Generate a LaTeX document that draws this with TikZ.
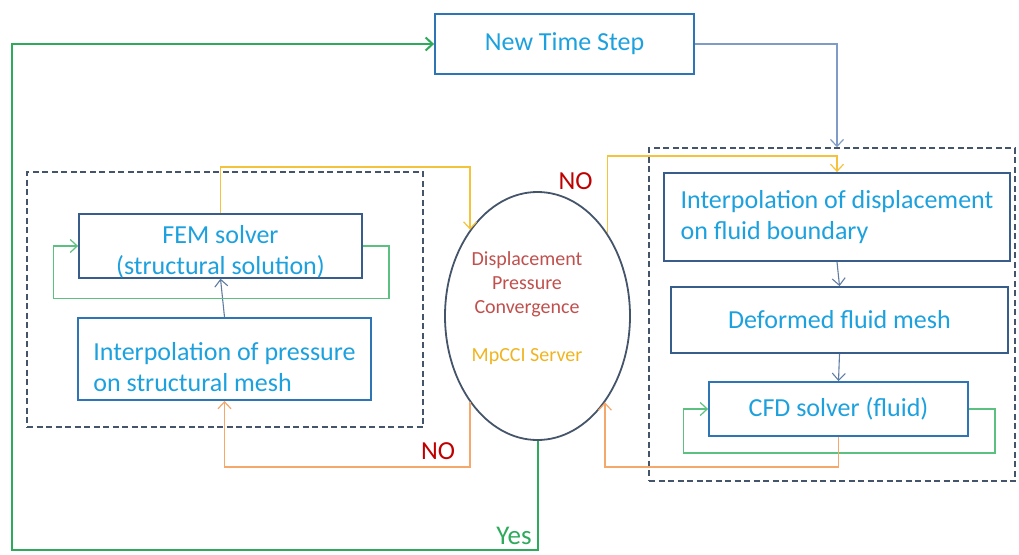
\documentclass[tikz,border=0pt]{standalone}
\usepackage{fontspec}
\setmainfont{Carlito}
\usepackage{tikz}
\usetikzlibrary{arrows.meta,positioning,calc,shapes.geometric}
\definecolor{txtcyan}{HTML}{1DA1DE}
\definecolor{boxblue}{HTML}{2E75B6}
\definecolor{boxdark}{HTML}{385D8A}
\definecolor{zonegray}{HTML}{44546A}
\definecolor{yesgreen}{HTML}{2DAA5C}
\definecolor{loopgreen}{HTML}{5CC080}
\definecolor{noorange}{HTML}{F4A86C}
\definecolor{noyellow}{HTML}{F5C33B}
\definecolor{stepblue}{HTML}{7F9BC6}
\definecolor{nored}{HTML}{C00000}
\definecolor{convred}{HTML}{C0504D}
\definecolor{mpyellow}{HTML}{F0B420}
\tikzset{
  bluebox/.style={draw=boxblue, line width=1.8pt, text=txtcyan, font=\fontsize{26}{31}\selectfont, inner sep=0pt},
  darkbox/.style={draw=boxdark, line width=1.8pt, text=txtcyan, font=\fontsize{26}{31}\selectfont, inner sep=0pt},
  srvnode/.style={draw=zonegray, ellipse, line width=1.8pt, inner sep=0pt},
  zonebox/.style={draw=zonegray, dashed, dash pattern=on 6pt off 3.5pt, line width=1.5pt, inner sep=0pt},
  tip/.style={-{Straight Barb[length=7pt,width=13pt]}},
  yline/.style={tip, noyellow, line width=1.2pt},
  oline/.style={tip, noorange, line width=1.2pt},
  gline/.style={tip, yesgreen, line width=2pt},
  loopline/.style={tip, loopgreen, line width=1.2pt},
  bline/.style={tip, stepblue, line width=1.2pt},
  dline/.style={tip, boxdark!80, line width=1.1pt},
  notext/.style={text=nored, font=\fontsize{26}{30}\selectfont},
}
\begin{document}
\begin{tikzpicture}[x=1pt, y=-1pt]
  \useasboundingbox (0,0) rectangle (1019,554);

  % dashed zones
  \node[zonebox, minimum width=396pt, minimum height=255pt] (solidzone) at (225,299.5) {};
  \node[zonebox, minimum width=366pt, minimum height=333pt] (fluidzone) at (832,314.5) {};

  % boxes
  \node[bluebox, minimum width=259pt, minimum height=60pt] (ts) at (564.5,44) {New Time Step};
  \node[darkbox, minimum width=346pt, minimum height=88pt, align=left] (idisp) at (837,217) {Interpolation of displacement\\on fluid boundary};
  \node[darkbox, minimum width=337pt, minimum height=66pt] (dmesh) at (839.5,320) {Deformed fluid mesh};
  \node[bluebox, minimum width=259pt, minimum height=54pt] (cfd) at (838.5,409) {CFD solver (fluid)};
  \node[darkbox, minimum width=283pt, minimum height=62pt, align=center] (fem) at (220.5,246) {\rule{0pt}{29pt}FEM solver\\(structural solution)};
  \node[bluebox, minimum width=293pt, minimum height=82pt, align=left] (ipres) at (224.5,359) {\rule{0pt}{35pt}Interpolation of pressure\\on structural mesh};

  % server
  \node[srvnode, minimum width=185pt, minimum height=248pt] (srv) at (537.5,316) {};
  \node[align=center, font=\fontsize{20}{24}\selectfont] (srvinfo) at (527,308) {\textcolor{convred}{Displacement}\\\textcolor{convred}{Pressure}\\\textcolor{convred}{Convergence}\\[24pt]\textcolor{mpyellow}{MpCCI Server}};

  % level coordinates
  \coordinate (ytopL) at (0,167);
  \coordinate (ytopR) at (0,156);
  \coordinate (olow) at (0,467);
  \coordinate (gcorner) at (12,550);

  % chain
  \draw[bline] (ts.east) -| (idisp.north |- fluidzone.north);
  \draw[dline] (idisp.south) -- (dmesh.north);
  \draw[dline] (dmesh.south) -- (cfd.north);
  \draw[dline] (ipres.north) -- (fem.south);

  % iteration loops
  \draw[loopline] (fem.east) -| ($(fem.south east)+(26,20)$) -| ($(fem.west)+(-25,0)$) -- (fem.west);
  \draw[loopline] (cfd.east) -| ($(cfd.south east)+(26,16)$) -| ($(cfd.west)+(-25,0)$) -- (cfd.west);

  % coupling
  \draw[yline] (fem.north) |- (srv.128 |- ytopL) -- (srv.128);
  \draw[yline] (srv.50) -- (srv.50 |- ytopR) -| (idisp.north);
  \draw[oline] (srv.232) -- (srv.232 |- olow) -| (ipres.south);
  \draw[oline] (cfd.south) |- (srv.308 |- olow) -- (srv.308);
  \draw[gline] (srv.south) |- (gcorner) |- (ts.west);

  \node[notext] (noR) at (575.5,181) {NO};
  \node[notext] (noL) at (438,451) {NO};
  \node[text=yesgreen, font=\fontsize{27}{31}\selectfont] (yes) at (514,536) {Yes};
\end{tikzpicture}
\end{document}
